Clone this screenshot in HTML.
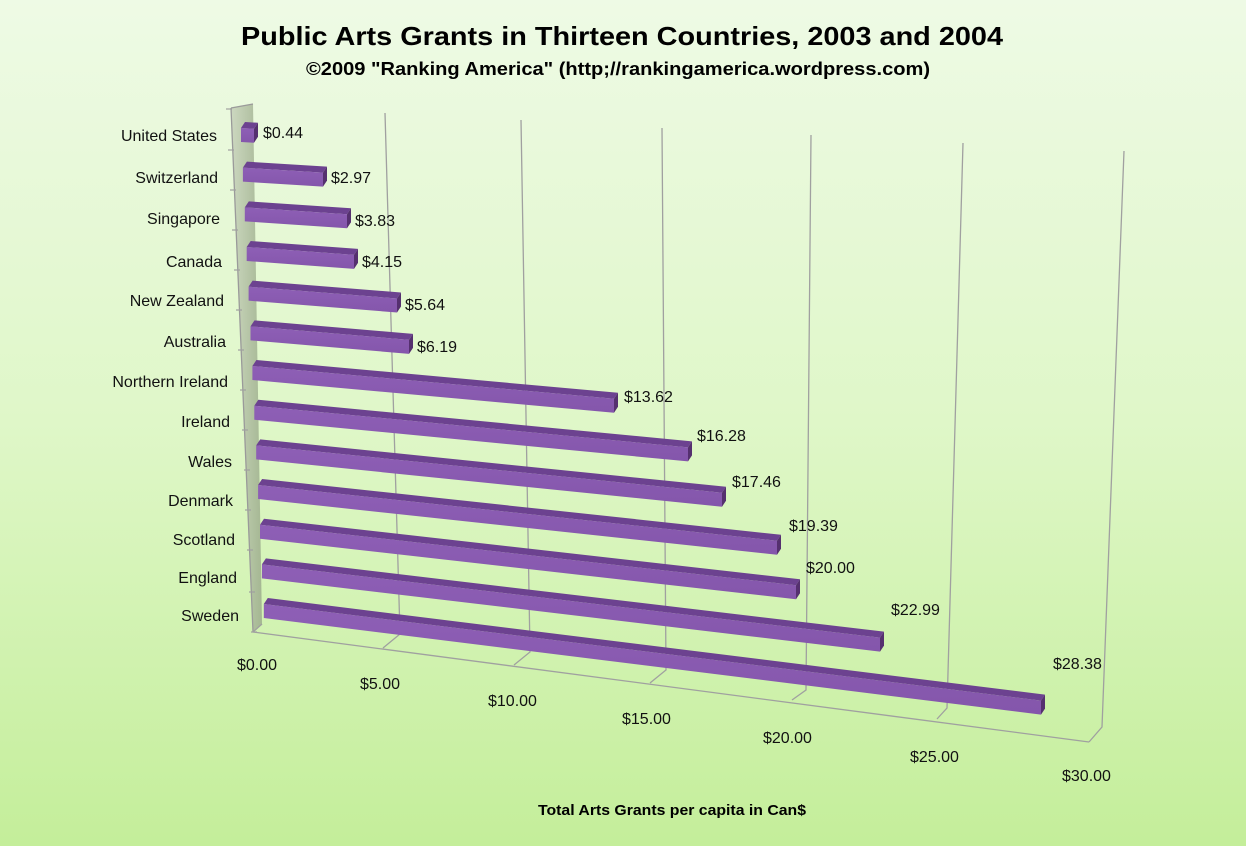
<!DOCTYPE html>
<html><head><meta charset="utf-8"><style>
html,body{margin:0;padding:0;}
body{width:1246px;height:846px;overflow:hidden;background:linear-gradient(#eefae5,#dff7c8 50%,#c4ee9a);}
svg{display:block;font-family:"Liberation Sans",sans-serif;}
</style></head><body>
<svg width="1246" height="846" viewBox="0 0 1246 846">
<defs>
<linearGradient id="wall" x1="0" x2="1" y1="0" y2="0">
<stop offset="0" stop-color="#c9d4bd"/><stop offset="1" stop-color="#9fb08e"/>
</linearGradient>
<linearGradient id="front" x1="0" x2="0" y1="0" y2="1">
<stop offset="0" stop-color="#8e5fb6"/><stop offset="1" stop-color="#8456ab"/>
</linearGradient>
</defs>
<text x="622" y="45" text-anchor="middle" font-size="26" font-weight="bold" textLength="762" lengthAdjust="spacingAndGlyphs">Public Arts Grants in Thirteen Countries, 2003 and 2004</text>
<text x="618" y="75" text-anchor="middle" font-size="18" font-weight="bold" textLength="624" lengthAdjust="spacingAndGlyphs">©2009 "Ranking America" (http;//rankingamerica.wordpress.com)</text>
<text x="672" y="815" text-anchor="middle" font-size="15" font-weight="bold" textLength="268" lengthAdjust="spacingAndGlyphs">Total Arts Grants per capita in Can$</text>

<polygon points="231,108 253,104 262,624 253,632" fill="url(#wall)" opacity="0.9"/>
<polyline points="231,108 253,632" stroke="#9a9a9a" stroke-width="1.3" fill="none"/>
<polyline points="231,108 253,104" stroke="#9a9a9a" stroke-width="1.3" fill="none"/>

<g stroke="#a0a0a0" stroke-width="1.3" fill="none">
<polyline points="385,113 400,634 383,648"/>
<polyline points="521,120 530,652 514,665"/>
<polyline points="662,128 666,670 650,683"/>
<polyline points="811,135 806,690 792,700"/>
<polyline points="963,143 947,708 937,719"/>
<polyline points="1124,151 1102,727 1089,742"/>
<polyline points="253,632 1089,742"/>
<polyline points="253,632 262,624"/>
</g>
<g stroke="#a0a0a0" stroke-width="1.2">
<line x1="226" y1="109" x2="232" y2="109"/>
<line x1="228" y1="150" x2="234" y2="150"/>
<line x1="230" y1="190" x2="236" y2="190"/>
<line x1="232" y1="230" x2="238" y2="230"/>
<line x1="234" y1="270" x2="240" y2="270"/>
<line x1="236" y1="310" x2="242" y2="310"/>
<line x1="238" y1="350" x2="244" y2="350"/>
<line x1="240" y1="390" x2="246" y2="390"/>
<line x1="242" y1="430" x2="248" y2="430"/>
<line x1="244" y1="470" x2="250" y2="470"/>
<line x1="245" y1="510" x2="251" y2="510"/>
<line x1="247" y1="550" x2="253" y2="550"/>
<line x1="249" y1="592" x2="255" y2="592"/>
<line x1="251" y1="632" x2="257" y2="632"/>
</g>

<g id="bars"></g>

<g font-size="16" fill="#111">
<text x="263" y="138">$0.44</text>
<text x="331" y="183">$2.97</text>
<text x="355" y="226">$3.83</text>
<text x="362" y="267">$4.15</text>
<text x="405" y="310">$5.64</text>
<text x="417" y="352">$6.19</text>
<text x="624" y="402">$13.62</text>
<text x="697" y="441">$16.28</text>
<text x="732" y="487">$17.46</text>
<text x="789" y="531">$19.39</text>
<text x="806" y="573">$20.00</text>
<text x="891" y="615">$22.99</text>
<text x="1053" y="669">$28.38</text>
</g>
<g font-size="16" fill="#111" text-anchor="end">
<text x="217" y="141">United States</text>
<text x="218" y="183">Switzerland</text>
<text x="220" y="224">Singapore</text>
<text x="222" y="267">Canada</text>
<text x="224" y="306">New Zealand</text>
<text x="226" y="347">Australia</text>
<text x="228" y="387">Northern Ireland</text>
<text x="230" y="427">Ireland</text>
<text x="232" y="467">Wales</text>
<text x="233" y="506">Denmark</text>
<text x="235" y="545">Scotland</text>
<text x="237" y="583">England</text>
<text x="239" y="621">Sweden</text>
</g>
<g font-size="16" fill="#111">
<text x="237" y="670">$0.00</text>
<text x="360" y="689">$5.00</text>
<text x="488" y="706">$10.00</text>
<text x="622" y="724">$15.00</text>
<text x="763" y="743">$20.00</text>
<text x="910" y="762">$25.00</text>
<text x="1062" y="781">$30.00</text>
</g>
</svg>
<script>
var R=[258,327,351,358,401,413,618,692,726,781,800,884,1045];
var g=document.getElementById('bars'),s='';
for(var i=0;i<13;i++){
 var L=241+1.9*i,Y=122+i*39.67,r=R[i]-4,sl=0.057+0.0056*i,d=sl*(r-L);
 s+='<polygon points="'+(L+4)+','+Y+' '+(r+4)+','+(Y+d)+' '+r+','+(Y+6+d)+' '+L+','+(Y+6)+'" fill="#6c4290"/>';
 s+='<polygon points="'+L+','+(Y+6)+' '+r+','+(Y+6+d)+' '+r+','+(Y+20+d)+' '+L+','+(Y+20)+'" fill="url(#front)"/>';
 s+='<polygon points="'+r+','+(Y+6+d)+' '+(r+4)+','+(Y+d)+' '+(r+4)+','+(Y+14+d)+' '+r+','+(Y+20+d)+'" fill="#55306f"/>';
}
g.innerHTML=s;
</script>
</body></html>
